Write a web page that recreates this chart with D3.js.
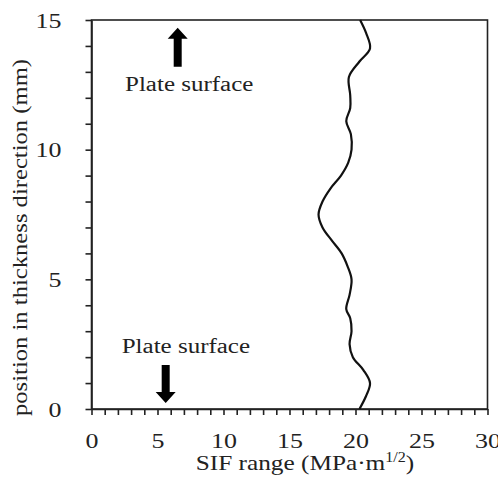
<!DOCTYPE html>
<html>
<head>
<meta charset="utf-8">
<script src="https://cdn.jsdelivr.net/npm/d3@7"></script>
<style>
  body { margin: 0; background: #fff; }
  text { font-family: "Liberation Serif", "DejaVu Serif", serif; fill: #222; }
</style>
</head>
<body>
<div id="chart"></div>
<script>
// thickness position (mm) and SIF range (MPa·m^1/2)
const positions = [0, 0.5, 1.0, 1.5, 2.0, 2.5, 3.0, 3.5, 3.85, 4.4, 5.0, 5.5, 6.0, 6.5, 7.0, 7.5,
                   8.0, 8.5, 9.0, 9.5, 10.0, 10.6, 11.1, 11.6, 12.1, 12.8, 13.4, 13.9, 14.5, 15];
const sifRange = [20.3, 20.8, 21.1, 20.6, 19.8, 19.55, 19.7, 19.6, 19.3, 19.55, 19.7, 19.4, 18.95, 18.2, 17.5, 17.2,
                  17.5, 18.1, 18.9, 19.45, 19.7, 19.65, 19.3, 19.6, 19.6, 19.5, 20.3, 21.1, 20.8, 20.35];

const xTicks = d3.range(0, 31, 1);
const yTicks = d3.range(0, 16, 1);

// annotations: label + arrow (data units)
const labelText = ["Plate surface", "Plate surface"];
const labelX = [7.4, 7.15];
const labelY = [12.25, 2.15];
const arrowX = [6.53, 5.62];
const arrowFrom = [13.2, 1.7];
const arrowTo = [14.7, 0.23];

const width = 498, height = 484;
const margin = { top: 20, right: 10.5, bottom: 75, left: 91.5 };
const stretch = 1.18; // reference glyphs look wider than Liberation Serif

const svg = d3.select("#chart").append("svg")
    .attr("width", width)
    .attr("height", height);

const x = d3.scaleLinear().domain([0, 30]).range([margin.left, width - margin.right]);
const y = d3.scaleLinear().domain([0, 15]).range([height - margin.bottom, margin.top]);

// frame
svg.append("rect")
    .attr("x", x(0))
    .attr("y", y(15))
    .attr("width", x(30) - x(0))
    .attr("height", y(0) - y(15))
    .attr("fill", "none")
    .attr("stroke", "#222")
    .attr("stroke-width", 1.6);

let xAxis = svg.append("g")
    .attr("transform", `translate(0,${y(0)})`)
    .call(d3.axisBottom(x)
        .tickValues(xTicks)
        .tickSize(6)
        .tickSizeOuter(0)
        .tickPadding(17)
        .tickFormat(d => d % 5 === 0 ? d : ""));

let yAxis = svg.append("g")
    .attr("transform", `translate(${x(0)},0)`)
    .call(d3.axisLeft(y)
        .tickValues(yTicks)
        .tickSize(6)
        .tickSizeOuter(0)
        .tickPadding(24)
        .tickFormat(d => d % 5 === 0 ? d : ""));

[xAxis, yAxis].forEach(a => {
    a.select(".domain").attr("stroke", "#222").attr("stroke-width", 1.6);
    a.selectAll(".tick line").attr("stroke", "#222").attr("stroke-width", 1.6);
    a.selectAll(".tick text")
        .style("font-family", "Liberation Serif, serif")
        .style("font-size", "22px")
        .attr("fill", "#222")
        .attr("transform", `scale(${stretch},1)`);
});
// keep right edge of y labels in place after scaling
yAxis.selectAll(".tick text").attr("x", -30 / stretch);

// curve
const line = d3.line()
    .x((d, i) => x(sifRange[i]))
    .y(d => y(d))
    .curve(d3.curveCatmullRom.alpha(0.5));

svg.append("path")
    .datum(positions)
    .attr("d", line)
    .attr("fill", "none")
    .attr("stroke", "#111")
    .attr("stroke-width", 2.2);

// arrows
const shaftW = 8, headW = 20, headL = 11;
arrowX.forEach((ax, i) => {
    let cx = x(ax), y0 = y(arrowFrom[i]), y1 = y(arrowTo[i]);
    let dir = y1 < y0 ? -1 : 1;
    let yh = y1 - dir * headL;
    let p = d3.path();
    p.moveTo(cx - shaftW / 2, y0);
    p.lineTo(cx - shaftW / 2, yh);
    p.lineTo(cx - headW / 2, yh);
    p.lineTo(cx, y1);
    p.lineTo(cx + headW / 2, yh);
    p.lineTo(cx + shaftW / 2, yh);
    p.lineTo(cx + shaftW / 2, y0);
    p.closePath();
    svg.append("path").attr("d", p.toString()).attr("fill", "#000");
});

labelText.forEach((t, i) => {
    svg.append("text")
        .attr("transform", `translate(${x(labelX[i])},${y(labelY[i])}) scale(1.25,1)`)
        .attr("text-anchor", "middle")
        .style("font-size", "20px")
        .text(t);
});

// axis titles
let xt = svg.append("text")
    .attr("transform", `translate(305,470) scale(1.15,1)`)
    .attr("text-anchor", "middle")
    .style("font-size", "22px");
xt.append("tspan").text("SIF range (MPa·m");
xt.append("tspan").attr("dy", -8).style("font-size", "14px").text("1/2");
xt.append("tspan").attr("dy", 8).text(")");

svg.append("text")
    .attr("transform", `translate(27,237.5) rotate(-90) scale(1.12,1)`)
    .attr("text-anchor", "middle")
    .style("font-size", "22px")
    .text("position in thickness direction (mm)");
</script>
</body>
</html>
